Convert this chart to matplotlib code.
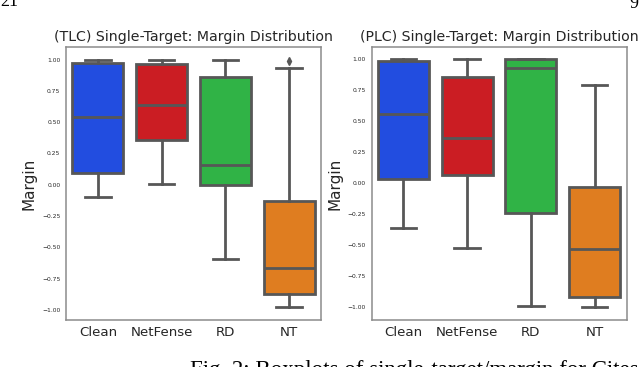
import matplotlib
matplotlib.use("Agg")
import matplotlib.pyplot as plt

categories = ["Clean", "NetFense", "RD", "NT"]
colors = ["#224de0", "#cb1d23", "#30b346", "#df7d20"]

# TLC panel (left)
tlc_whislo = [-0.10, 0.005, -0.59, -0.974]
tlc_q1 = [0.095, 0.356, -0.005, -0.876]
tlc_med = [0.545, 0.640, 0.154, -0.663]
tlc_q3 = [0.976, 0.968, 0.859, -0.133]
tlc_whishi = [1.0, 1.0, 1.0, 0.93]
tlc_fliers = [[], [], [], [0.99]]

# PLC panel (right)
plc_whislo = [-0.366, -0.528, -0.99, -1.0]
plc_q1 = [0.030, 0.065, -0.240, -0.919]
plc_med = [0.558, 0.364, 0.930, -0.536]
plc_q3 = [0.984, 0.854, 1.0, -0.030]
plc_whishi = [1.0, 1.0, 1.0, 0.795]
plc_fliers = [[], [], [], []]

yticks = [-1.00, -0.75, -0.50, -0.25, 0.00, 0.25, 0.50, 0.75, 1.00]

gray = "#575757"
fig = plt.figure(figsize=(6.4, 3.67), dpi=100)

def panel(rect, title, wl, q1, med, q3, wh, fl, ylim):
    ax = fig.add_axes(rect)
    stats = []
    for i in range(len(categories)):
        stats.append(dict(label=categories[i], whislo=wl[i], q1=q1[i], med=med[i],
                          q3=q3[i], whishi=wh[i], fliers=fl[i]))
    lw = 2.0
    bp = ax.bxp(stats, positions=range(len(categories)), widths=0.8, patch_artist=True,
                showfliers=True, capwidths=0.4,
                boxprops=dict(edgecolor=gray, linewidth=lw),
                medianprops=dict(color=gray, linewidth=lw),
                whiskerprops=dict(color=gray, linewidth=lw),
                capprops=dict(color=gray, linewidth=lw),
                flierprops=dict(marker="d", markersize=4, markerfacecolor=gray,
                                markeredgecolor=gray, linestyle="none"))
    for patch, c in zip(bp["boxes"], colors):
        patch.set_facecolor(c)
    ax.set_xlim(-0.5, 3.5)
    ax.set_ylim(*ylim)
    ax.set_yticks(yticks)
    ax.set_yticklabels([f"{v:.2f}".replace("-", "\u2212") for v in yticks], fontsize=4.3)
    ax.set_xticks(range(len(categories)))
    ax.set_xticklabels(categories, fontsize=9.6, color="#262626")
    ax.tick_params(axis="both", length=0, colors="#262626")
    ax.tick_params(axis="x", pad=4)
    ax.tick_params(axis="y", pad=4)
    ax.set_ylabel("Margin", fontsize=11, color="#262626", labelpad=4)
    ax.set_title(title, fontsize=10.2, color="#262626", pad=4)
    for s in ax.spines.values():
        s.set_color("#8c8c8c")
        s.set_linewidth(1.1)
    return ax

panel([66/640, 1-320/367, 255/640, 273/367], "(TLC) Single-Target: Margin Distribution",
      tlc_whislo, tlc_q1, tlc_med, tlc_q3, tlc_whishi, tlc_fliers, (-1.08, 1.10))
panel([371.5/640, 1-320/367, 255/640, 273/367], "(PLC) Single-Target: Margin Distribution",
      plc_whislo, plc_q1, plc_med, plc_q3, plc_whishi, plc_fliers, (-1.107, 1.10))

fig.text(0/640, 1-6/367, "21", fontsize=13, family="Liberation Serif", ha="left", va="baseline")
fig.text(629/640, 1-8/367, "9", fontsize=13, family="Liberation Serif", ha="left", va="baseline")
fig.text(190/640, 1-376/367, "Fig. 2: Boxplots of single-target/margin for Citeseer",
         fontsize=16.5, family="Liberation Serif", ha="left", va="baseline")

fig.savefig("out.png", dpi=100)
